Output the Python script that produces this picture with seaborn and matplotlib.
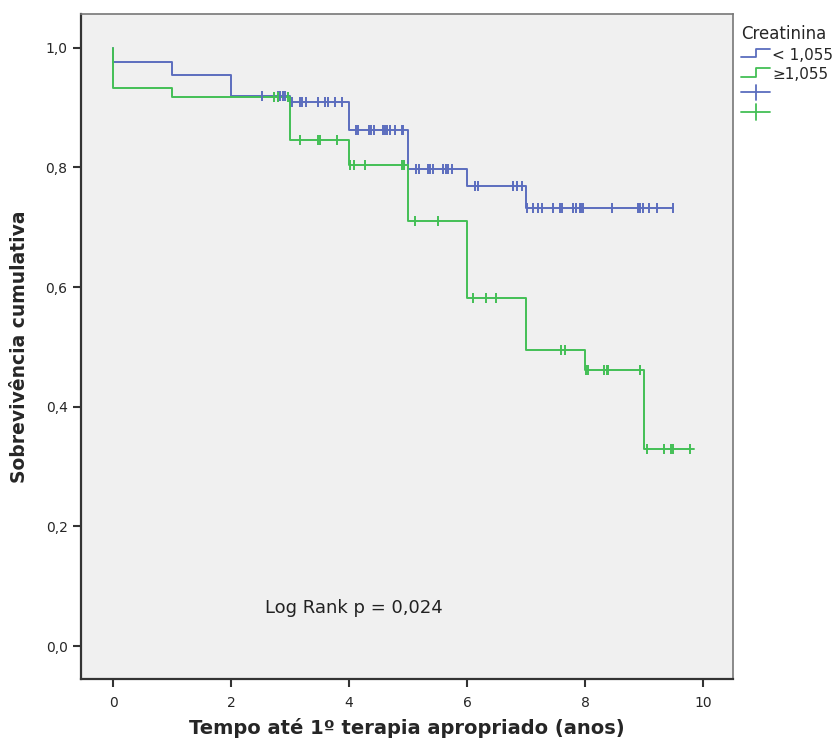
import numpy as np
import pandas as pd
import seaborn as sns
import matplotlib.pyplot as plt
from matplotlib.legend_handler import HandlerBase
from matplotlib.lines import Line2D

# Kaplan-Meier steps
grupos = ["< 1,055", "\u22651,055"]
cores = ["#5B6DBE", "#43BF55"]

t_baixa = [0.0, 0.0, 1.0, 2.0, 3.0, 4.0, 5.0, 6.0, 7.0, 9.5]
s_baixa = [1.0, 0.977, 0.955, 0.920, 0.909, 0.863, 0.797, 0.769, 0.733, 0.733]
cens_baixa = [2.52, 2.79, 2.83, 2.88, 2.92,
              3.03, 3.17, 3.21, 3.27, 3.48, 3.59, 3.64, 3.76, 3.88,
              4.12, 4.15, 4.34, 4.38, 4.42, 4.57, 4.61, 4.65, 4.69, 4.78, 4.89, 4.91,
              5.14, 5.18, 5.34, 5.38, 5.42, 5.60, 5.64, 5.68, 5.74,
              6.14, 6.19, 6.78, 6.84, 6.93,
              7.02, 7.12, 7.20, 7.27, 7.45, 7.58, 7.61, 7.80, 7.85, 7.92, 7.94, 7.96,
              8.46, 8.90, 8.94, 8.99, 9.09, 9.22, 9.49]

t_alta = [0.0, 0.0, 1.0, 3.0, 4.0, 5.0, 6.0, 7.0, 8.0, 9.0, 9.85]
s_alta = [1.0, 0.933, 0.917, 0.846, 0.804, 0.710, 0.582, 0.495, 0.462, 0.330, 0.330]
cens_alta = [2.72, 2.80, 2.97,
             3.17, 3.48, 3.51, 3.80,
             4.01, 4.08, 4.27, 4.89, 4.93,
             5.12, 5.51,
             6.11, 6.33, 6.49,
             7.60, 7.66,
             8.02, 8.05, 8.33, 8.37, 8.39, 8.93,
             9.05, 9.34, 9.46, 9.50, 9.78]

curvas = [(t_baixa, s_baixa, cens_baixa), (t_alta, s_alta, cens_alta)]


class StepHandler(HandlerBase):
    def create_artists(self, legend, orig, xd, yd, w, h, fontsize, trans):
        xs = [xd, xd + w * 0.5, xd + w * 0.5, xd + w]
        ys = [yd + h * 0.15, yd + h * 0.15, yd + h * 0.9, yd + h * 0.9]
        ln = Line2D(xs, ys, color=orig.get_color(), lw=1.3)
        ln.set_transform(trans)
        return [ln]


class CrossHandler(HandlerBase):
    def create_artists(self, legend, orig, xd, yd, w, h, fontsize, trans):
        a = Line2D([xd, xd + w], [yd + h / 2, yd + h / 2], color=orig.get_color(), lw=1.3)
        b = Line2D([xd + w / 2, xd + w / 2], [yd - h * 0.15, yd + h * 1.15], color=orig.get_color(), lw=1.3)
        a.set_transform(trans)
        b.set_transform(trans)
        return [a, b]


sns.set_style("white")
plt.rcParams['font.family'] = ['DejaVu Sans']

fig = plt.figure(figsize=(8.38, 7.44), dpi=100)
ax = fig.add_axes([80.7 / 838, 1 - 679 / 744, (733 - 80.7) / 838, (679 - 13.7) / 744])
ax.set_facecolor("#F0F0F0")

for (t, s, c), cor, nome in zip(curvas, cores, grupos):
    df = pd.DataFrame({"t": t, "s": s})
    sns.lineplot(data=df, x="t", y="s", drawstyle="steps-post", estimator=None,
                 sort=False, color=cor, lw=1.4, ax=ax, legend=False)
    tt = np.array(t)
    idx = np.searchsorted(tt, c, side="right") - 1
    sc = pd.DataFrame({"t": c, "s": np.array(s)[idx]})
    sns.scatterplot(data=sc, x="t", y="s", marker="|", s=45, color=cor,
                    linewidth=1.4, ax=ax, legend=False, zorder=3)

ax.set_xlim(-0.55, 10.51)
ax.set_ylim(-0.055, 1.057)
ax.set_xticks([0, 2, 4, 6, 8, 10])
ax.set_yticks([0.0, 0.2, 0.4, 0.6, 0.8, 1.0])
ax.set_yticklabels(["0,0", "0,2", "0,4", "0,6", "0,8", "1,0"])
ax.tick_params(axis="both", direction="out", length=6, width=1.5, color="#333333",
               labelsize=10, left=True, bottom=True)
ax.tick_params(axis="x", pad=6)
for lado in ["left", "bottom"]:
    ax.spines[lado].set_color("#333333")
    ax.spines[lado].set_linewidth(1.6)
for lado in ["top", "right"]:
    ax.spines[lado].set_color("#777777")
    ax.spines[lado].set_linewidth(1.2)

ax.set_xlabel("Tempo até 1º terapia apropriado (anos)", fontsize=14, fontweight="bold", labelpad=6)
ax.set_ylabel("Sobrevivência cumulativa", fontsize=13.5, fontweight="bold", labelpad=12)

ax.text(2.58, 0.064, "Log Rank p = 0,024", fontsize=13, va="center", ha="left", color="#222222")

handles = [Line2D([], [], color=cores[0]), Line2D([], [], color=cores[1]),
           Line2D([], [], color=cores[0], ls="--"), Line2D([], [], color=cores[1], ls="--")]
hmap = {handles[0]: StepHandler(), handles[1]: StepHandler(),
        handles[2]: CrossHandler(), handles[3]: CrossHandler()}
leg = fig.legend(handles, grupos + ["", ""], handler_map=hmap, loc="upper left",
                 bbox_to_anchor=(738 / 838, 1 - 22 / 744), frameon=False, fontsize=11,
                 title="Creatinina", title_fontsize=12, alignment="left",
                 handlelength=1.9, handleheight=0.8, handletextpad=0.15,
                 labelspacing=0.3, borderaxespad=0, borderpad=0.2)

fig.savefig("out.png", dpi=100, facecolor="white")
